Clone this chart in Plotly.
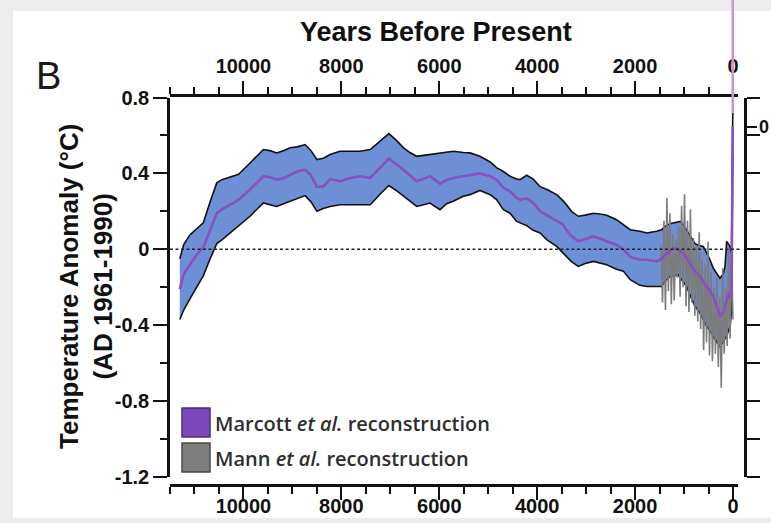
import plotly.graph_objects as go

# ---------------- data ----------------
marcott_years = [11300, 11220, 11090, 10960, 10820, 10680, 10545, 10440, 10270, 10100,
                 9865, 9730, 9590, 9460, 9320, 9180, 9050, 8900, 8740, 8620,
                 8500, 8370, 8230, 8030, 7820, 7620, 7410, 7210, 7030, 6880,
                 6730, 6600, 6460, 6320, 6190, 5985, 5850, 5713, 5510, 5370,
                 5170, 4960, 4830, 4690, 4555, 4420, 4350, 4215, 4080, 3940,
                 3800, 3600, 3470, 3400, 3300, 3160, 3020, 2850, 2650, 2580,
                 2380, 2240, 2100, 1900, 1760, 1560, 1460, 1390, 1290, 1220,
                 1120, 1080, 1015, 946, 880, 776, 674, 607, 537, 470,
                 402, 330, 266, 200, 163, 129, 96, 61, 30, 5]
marcott_upper = [-0.05, 0.025, 0.077, 0.11, 0.14, 0.25, 0.35, 0.367, 0.38, 0.395,
                 0.455, 0.49, 0.526, 0.52, 0.508, 0.52, 0.535, 0.54, 0.552, 0.52,
                 0.473, 0.48, 0.50, 0.517, 0.515, 0.517, 0.526, 0.57, 0.61, 0.575,
                 0.535, 0.51, 0.49, 0.495, 0.50, 0.508, 0.515, 0.517, 0.51, 0.508,
                 0.49, 0.46, 0.43, 0.41, 0.385, 0.37, 0.367, 0.39, 0.37, 0.33,
                 0.315, 0.288, 0.255, 0.235, 0.20, 0.174, 0.18, 0.19, 0.183, 0.18,
                 0.156, 0.13, 0.103, 0.095, 0.086, 0.095, 0.103, 0.121, 0.135, 0.139,
                 0.145, 0.147, 0.13, 0.103, 0.07, 0.03, 0.018, 0.015, -0.02, -0.055,
                 -0.10, -0.13, -0.152, -0.13, -0.09, 0.042, 0.03, 0.015, -0.02, 0.72]
marcott_mean = [-0.21, -0.13, -0.08, -0.03, 0.01, 0.10, 0.19, 0.21, 0.235, 0.26,
                0.315, 0.35, 0.385, 0.38, 0.367, 0.375, 0.39, 0.41, 0.42, 0.39,
                0.33, 0.33, 0.37, 0.358, 0.376, 0.385, 0.376, 0.43, 0.478, 0.45,
                0.42, 0.39, 0.358, 0.37, 0.385, 0.346, 0.365, 0.376, 0.385, 0.388,
                0.40, 0.385, 0.367, 0.324, 0.306, 0.271, 0.262, 0.268, 0.244, 0.20,
                0.18, 0.15, 0.13, 0.10, 0.07, 0.042, 0.055, 0.068, 0.05, 0.042,
                0.024, 0.0, -0.04, -0.055, -0.055, -0.064, -0.05, -0.03, -0.01, 0.005,
                0.0, -0.01, -0.02, -0.05, -0.072, -0.117, -0.143, -0.17, -0.196, -0.22,
                -0.249, -0.30, -0.354, -0.33, -0.301, -0.27, -0.23, -0.25, -0.24, 0.65]
marcott_lower = [-0.37, -0.32, -0.26, -0.20, -0.14, -0.05, 0.03, 0.05, 0.086, 0.12,
                 0.174, 0.21, 0.244, 0.235, 0.226, 0.24, 0.253, 0.265, 0.283, 0.25,
                 0.20, 0.215, 0.226, 0.235, 0.235, 0.235, 0.235, 0.29, 0.336, 0.31,
                 0.279, 0.25, 0.226, 0.235, 0.244, 0.209, 0.24, 0.253, 0.28, 0.288,
                 0.31, 0.288, 0.262, 0.209, 0.19, 0.147, 0.139, 0.125, 0.10, 0.086,
                 0.05, 0.015, -0.02, -0.037, -0.065, -0.09, -0.075, -0.064, -0.075, -0.081,
                 -0.105, -0.115, -0.16, -0.19, -0.196, -0.196, -0.196, -0.17, -0.143, -0.14,
                 -0.134, -0.15, -0.17, -0.196, -0.24, -0.30, -0.336, -0.37, -0.407, -0.43,
                 -0.46, -0.49, -0.512, -0.49, -0.47, -0.46, -0.43, -0.407, -0.33, 0.50]

mann_years = [1470, 1440, 1410, 1380, 1350, 1320, 1290, 1260, 1230, 1200,
              1170, 1140, 1110, 1080, 1050, 1020, 990, 960, 930, 900,
              870, 840, 810, 780, 750, 720, 690, 660, 630, 600,
              570, 540, 510, 480, 450, 420, 390, 360, 330, 300,
              270, 240, 210, 180, 150, 120, 90, 60, 30, 0]
mann_values = [0.02, -0.28, 0.15, -0.32, 0.27, -0.22, 0.19, -0.29, 0.08, -0.27,
               0.05, -0.15, 0.12, -0.25, 0.23, -0.20, 0.29, -0.30, 0.15, -0.33,
               0.21, -0.28, 0.06, -0.35, 0.02, -0.38, 0.09, -0.42, -0.05, -0.53,
               -0.08, -0.49, 0.04, -0.56, -0.12, -0.59, -0.20, -0.55, -0.15, -0.62,
               -0.25, -0.73, -0.10, -0.55, -0.20, -0.51, 0.00, -0.47, -0.05, -0.37]

x_tick_vals = [10000, 8000, 6000, 4000, 2000, 0]
x_tick_text = ["10000", "8000", "6000", "4000", "2000", "0"]
y_tick_vals = [0.8, 0.4, 0, -0.4, -0.8, -1.2]
y_tick_text = ["0.8", "0.4", "0", "-0.4", "-0.8", "-1.2"]

legend_labels = ["Marcott <i>et al.</i> reconstruction", "Mann <i>et al.</i> reconstruction"]

# ---------------- styling / geometry ----------------
W, H = 771, 523
ML, MR, MT, MB = 170, 11, 90, 28
PW, PH = W - ML - MR, H - MT - MB


def px_x(p):
    return (p - ML) / PW


def px_y(p):
    return (H - MB - p) / PH


Y_RANGE = [-1.2, 0.8]
X_RANGE = [11500, -102]
Y_DOM = [px_y(477), px_y(97.5)]
X_DOM = [0, px_x(738)]

BLUE = "#6d8fd6"
PURPLE = "#8a4fc0"
GRAY = "#7c7c7c"
FONT = "Liberation Sans, Arial, sans-serif"

fig = go.Figure()

# Marcott uncertainty band
fig.add_trace(go.Scatter(x=marcott_years, y=marcott_lower, mode="lines",
                         line=dict(color="#111111", width=1.6), showlegend=False,
                         hoverinfo="skip"))
fig.add_trace(go.Scatter(x=marcott_years, y=marcott_upper, mode="lines",
                         line=dict(color="#111111", width=1.6), fill="tonexty",
                         fillcolor=BLUE, showlegend=False, hoverinfo="skip"))
# Mann reconstruction
fig.add_trace(go.Scatter(x=mann_years, y=mann_values, mode="lines",
                         line=dict(color=GRAY, width=1.6), showlegend=False,
                         hoverinfo="skip"))
# Marcott mean
fig.add_trace(go.Scatter(x=marcott_years, y=marcott_mean, mode="lines",
                         line=dict(color=PURPLE, width=2.6), showlegend=False,
                         hoverinfo="skip"))

shapes = []
# card background
shapes.append(dict(type="rect", xref="paper", yref="paper", layer="below",
                   x0=px_x(13), x1=px_x(790), y0=px_y(518), y1=px_y(11),
                   fillcolor="white", line=dict(width=0)))
# dotted zero line
shapes.append(dict(type="line", xref="paper", yref="y", x0=X_DOM[0], x1=px_x(741),
                   y0=0, y1=0, line=dict(color="#222222", width=1.5, dash="3px,2.5px")))
# instrumental spike continuing above the plot
spike_top = marcott_upper[-1]
spike_paper = Y_DOM[0] + (spike_top - Y_RANGE[0]) / (Y_RANGE[1] - Y_RANGE[0]) * (Y_DOM[1] - Y_DOM[0])
shapes.append(dict(type="line", xref="x", yref="paper", x0=marcott_years[-1], x1=marcott_years[-1],
                   y0=spike_paper, y1=px_y(-5), line=dict(color="#cf93d4", width=2.6)))
# stray axis tick of neighbouring panel at the right edge
shapes.append(dict(type="line", xref="paper", yref="paper", x0=px_x(747), x1=px_x(757),
                   y0=px_y(127), y1=px_y(127), line=dict(color="#111111", width=2)))
# legend swatches
for i, (fc, lc) in enumerate([("#7a48b8", "#4d2c7a"), ("#7f7f7f", "#4a4a4a")]):
    top = 408 + i * 35
    shapes.append(dict(type="rect", xref="paper", yref="paper",
                       x0=px_x(182), x1=px_x(210), y0=px_y(top + 29), y1=px_y(top),
                       fillcolor=fc, line=dict(color=lc, width=1.5)))

annotations = []
annotations.append(dict(text="Years Before Present", xref="paper", yref="paper",
                        x=px_x(436), y=px_y(32), showarrow=False,
                        font=dict(family=FONT, size=27, color="#111111", weight="bold"),
                        xanchor="center", yanchor="middle"))
annotations.append(dict(text="B", xref="paper", yref="paper", x=px_x(48), y=px_y(76),
                        showarrow=False, font=dict(family=FONT, size=38, color="#1a1a1a"),
                        xanchor="center", yanchor="middle"))
annotations.append(dict(text="Temperature Anomaly (°C)<br>(AD 1961-1990)", xref="paper",
                        yref="paper", x=px_x(86), y=px_y(287), textangle=-90,
                        showarrow=False,
                        font=dict(family=FONT, size=26, color="#111111", weight="bold"),
                        xanchor="center", yanchor="middle"))
annotations.append(dict(text="0", xref="paper", yref="paper", x=px_x(757), y=px_y(127),
                        showarrow=False, xanchor="left", yanchor="middle",
                        font=dict(family=FONT, size=18, color="#111111", weight="bold")))
for i, lab in enumerate(legend_labels):
    annotations.append(dict(text=lab, xref="paper", yref="paper", x=px_x(213),
                            y=px_y(423 + i * 35), showarrow=False, xanchor="left",
                            yanchor="middle",
                            font=dict(family="Open Sans, sans-serif", size=20,
                                      color="#2e2e2e", weight=600)))

tickfont = dict(family=FONT, size=20, color="#111111", weight="bold")
xcommon = dict(range=X_RANGE, domain=X_DOM, autorange=False, showgrid=False,
               zeroline=False, showline=True, linecolor="#111111", linewidth=2.5,
               ticks="outside", ticklen=13, tickwidth=2.2, tickcolor="#111111",
               tickmode="array", tickvals=x_tick_vals, ticktext=x_tick_text,
               tickfont=tickfont,
               minor=dict(ticks="outside", dtick=500, tick0=0, ticklen=7,
                          tickwidth=2, tickcolor="#111111"),
               anchor="free", automargin=False)

fig.update_layout(
    width=W, height=H,
    margin=dict(l=ML, r=MR, t=MT, b=MB, pad=0),
    paper_bgcolor="#ececec",
    plot_bgcolor="rgba(0,0,0,0)",
    showlegend=False,
    xaxis=dict(**xcommon, side="bottom", position=px_y(485), showticklabels=False),
    xaxis2=dict(**xcommon, side="top", position=px_y(95), overlaying="x"),
    # label-only axis for the bottom tick labels (sits a little higher than the tick axis)
    xaxis3=dict(range=X_RANGE, domain=X_DOM, autorange=False, showgrid=False,
                zeroline=False, showline=False, ticks="", tickmode="array",
                tickvals=x_tick_vals, ticktext=x_tick_text, tickfont=tickfont,
                side="bottom", overlaying="x", anchor="free", position=px_y(492),
                automargin=False),
    yaxis=dict(range=Y_RANGE, domain=Y_DOM, autorange=False, showgrid=False,
               zeroline=False, showline=True, linecolor="#111111", linewidth=2.5,
               ticks="outside", ticklen=14, tickwidth=2.2, tickcolor="#111111",
               tickmode="array", tickvals=y_tick_vals, ticktext=y_tick_text,
               tickfont=tickfont,
               minor=dict(ticks="outside", dtick=0.2, tick0=0, ticklen=7,
                          tickwidth=2, tickcolor="#111111"),
               anchor="x", automargin=False),
    yaxis2=dict(range=Y_RANGE, domain=Y_DOM, autorange=False, showgrid=False,
                zeroline=False, showline=True, linecolor="#111111", linewidth=2.5,
                ticks="outside", ticklen=13, tickwidth=2.2, tickcolor="#111111",
                dtick=0.2, tick0=0, showticklabels=False, side="right",
                overlaying="y", anchor="free", position=px_x(745), automargin=False),
    shapes=shapes,
    annotations=annotations,
)

# invisible traces so the overlaying axes are instantiated
fig.add_trace(go.Scatter(x=[None], y=[None], xaxis="x2", yaxis="y2", showlegend=False,
                         hoverinfo="skip"))
fig.add_trace(go.Scatter(x=[None], y=[None], xaxis="x3", yaxis="y", showlegend=False,
                         hoverinfo="skip"))

fig.write_html("out.html", config={"displayModeBar": False},
               post_script="document.body.style.margin='0';document.body.style.overflow='hidden';")
